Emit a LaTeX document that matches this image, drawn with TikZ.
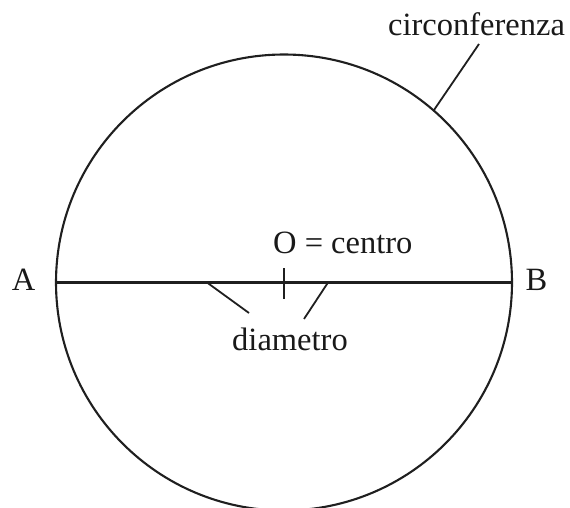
\documentclass[tikz,border=0pt]{standalone}
\usepackage{fontspec}
\setmainfont{Liberation Serif}
\begin{document}
\begin{tikzpicture}[x=1pt,y=1pt,
  lbl/.style={inner sep=0pt,font=\fontsize{32.5}{38}\selectfont,text=black!90},
  stroke/.style={line width=2.1pt,black!88},
  thin/.style={line width=1.8pt,black!88}]
\useasboundingbox (0,0) rectangle (570,507);
\coordinate (O) at (284,224.5);
\draw[stroke] (O) circle (228);
\coordinate (Ap) at (56,224.5);
\coordinate (Bp) at (512,224.5);
\draw[stroke] (Ap) -- (Bp);
\node[lbl,anchor=base] (A) at (23.5,217) {A};
\node[lbl,anchor=base] (B) at (536.5,217) {B};
\coordinate (t1) at (284,239);
\coordinate (t2) at (284,208);
\draw[thin] (t1) -- (t2);
\node[lbl,anchor=base west] (centro) at (273,254) {O = centro};
\node[lbl,anchor=base] (diam) at (290,157) {diametro};
\coordinate (d1) at (207,224.5);
\coordinate (d1e) at (249,194);
\coordinate (d2) at (328,224.5);
\coordinate (d2e) at (304,188);
\draw[thin] (d1) -- (d1e);
\draw[thin] (d2) -- (d2e);
\node[lbl,anchor=base west] (circ) at (388,471) {circonferenza};
\coordinate (c1) at (479,463);
\coordinate (c2) at (434,397);
\draw[thin] (c1) -- (c2);
\end{tikzpicture}
\end{document}
